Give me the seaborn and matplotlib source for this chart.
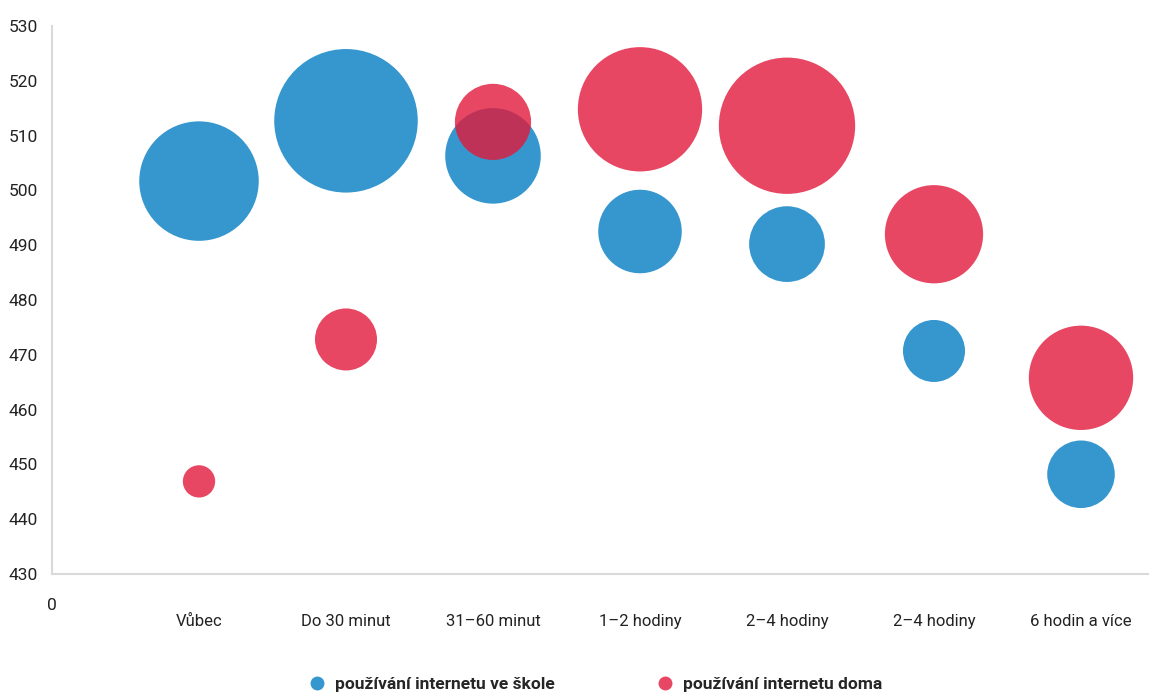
import seaborn as sns
import pandas as pd
import matplotlib.pyplot as plt
from matplotlib.lines import Line2D

# kategorie casu na internetu (osa x) - poradi 1..7
kategorie = ["Vůbec", "Do 30 minut", "31–60 minut", "1–2 hodiny",
             "2–4 hodiny", "2–4 hodiny", "6 hodin a více"]

# prumerny vysledek (osa y)
skola_skore = [501.7, 512.7, 506.3, 492.5, 490.2, 470.7, 448.2]
doma_skore = [446.9, 472.8, 512.5, 514.8, 511.8, 492.0, 465.8]

# podil zaku v % (velikost bubliny)
skola_podil = [21.9, 31.6, 14.0, 10.7, 8.8, 5.9, 7.0]
doma_podil = [1.6, 5.9, 8.9, 23.7, 28.5, 14.8, 16.7]

serie = ["používání internetu ve škole", "používání internetu doma"]
barvy = {serie[0]: "#037DC4", serie[1]: "#E2193B"}

pozice = list(range(1, len(kategorie) + 1))
df = pd.DataFrame({
    "x": pozice + pozice,
    "skore": skola_skore + doma_skore,
    "podil": skola_podil + doma_podil,
    "serie": [serie[0]] * 7 + [serie[1]] * 7,
})

sns.set_style("white")
plt.rcParams['font.family'] = ['Roboto', 'DejaVu Sans']

fig = plt.figure(figsize=(11.49, 6.93), dpi=100)
ax = fig.add_axes([52 / 1149, 1 - 574 / 693, 1 - 52 / 1149, 548 / 693])

sns.scatterplot(data=df, x="x", y="skore", hue="serie", size="podil",
                palette=barvy, sizes=(0, 33800), size_norm=(0, 100),
                alpha=0.8, linewidth=0, legend=False, ax=ax)

ax.set_xlim(0, 1097 / 147)
ax.set_ylim(430, 530)
ax.set_yticks(range(430, 531, 10))
ax.set_xticks(pozice)
ax.set_xticklabels(kategorie)
ax.tick_params(axis="y", length=0, pad=10, labelsize=12.5, colors="#222222")
ax.tick_params(axis="x", length=0, pad=29, labelsize=12, colors="#222222")
ax.set_xlabel("")
ax.set_ylabel("")
for s in ["top", "right"]:
    ax.spines[s].set_visible(False)
for s in ["left", "bottom"]:
    ax.spines[s].set_color("#d9d9d9")
    ax.spines[s].set_linewidth(1.5)

ax.text(0, -0.058, "0", transform=ax.transAxes, ha="center", va="center",
        fontsize=12.5, color="#222222")

handles = [Line2D([], [], marker="o", linestyle="", markersize=10,
                  markerfacecolor=barvy[s], markeredgewidth=0, alpha=0.8)
           for s in serie]
fig.legend(handles, serie, loc="center", bbox_to_anchor=(591 / 1149, 1 - 684 / 693),
           ncol=2, frameon=False, handletextpad=0.05, columnspacing=5.3,
           prop={"weight": "bold", "size": 12.5})

plt.savefig("out.png", dpi=100)
